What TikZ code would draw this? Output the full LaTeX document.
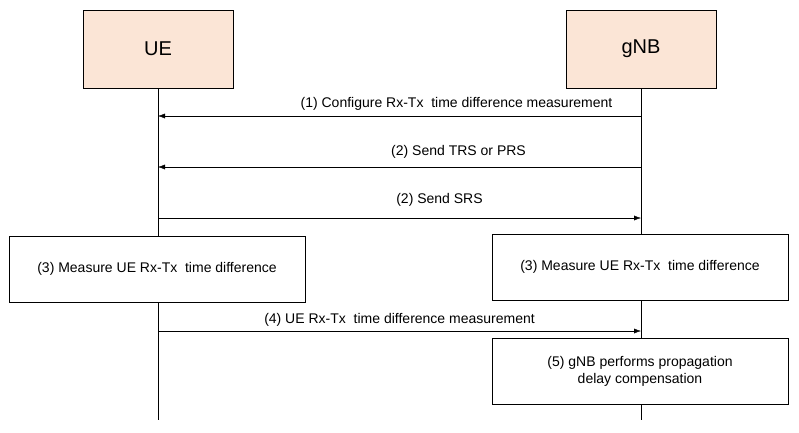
\documentclass[tikz,border=0pt]{standalone}
\usepackage{fontspec}
\setmainfont{Liberation Sans}
\usetikzlibrary{arrows.meta}
\definecolor{peach}{HTML}{FBE5D6}
\begin{document}
\begin{tikzpicture}[x=1pt,y=-1pt,
  ent/.style={draw,fill=peach,minimum width=150pt,minimum height=78pt,font=\fontsize{20}{24}\selectfont,inner sep=0pt},
  actbox/.style={draw,fill=white,minimum width=296pt,minimum height=66pt,align=center,font=\fontsize{14}{17}\selectfont,inner sep=0pt},
  msg/.style={-{Latex[length=7pt,width=5pt]}},
  lbl/.style={font=\fontsize{14}{17}\selectfont}]
\useasboundingbox (0,0) rectangle (799,432);
\node[ent] (ue) at (158,49) {UE};
\node[ent] (gnb) at (641,49) {gNB};
\coordinate (ueE) at (158,420);
\coordinate (gnbE) at (641,420);
\draw (ue.south) -- (ueE);
\draw (gnb.south) -- (gnbE);
\coordinate (u1) at (158,116); \coordinate (g1) at (641,116);
\coordinate (u2) at (158,167); \coordinate (g2) at (641,167);
\coordinate (u3) at (158,218); \coordinate (g3) at (641,218);
\coordinate (u4) at (158,331); \coordinate (g4) at (641,331);
\draw[msg] (g1) -- node[lbl,above=2pt,xshift=57pt]{(1) Configure Rx-Tx\ \ time difference measurement} (u1);
\draw[msg] (g2) -- node[lbl,above=5pt,xshift=59pt]{(2) Send TRS or PRS} (u2);
\draw[msg] (u3) -- node[lbl,above=8pt,xshift=40pt]{(2) Send SRS} (g3);
\node[actbox] (m1) at (157,269) {(3) Measure UE Rx-Tx\ \ time difference};
\node[actbox] (m2) at (640,267) {(3) Measure UE Rx-Tx\ \ time difference};
\draw[msg] (u4) -- node[lbl,above=1pt]{(4) UE Rx-Tx\ \ time difference measurement} (g4);
\node[actbox] (m5) at (640,371) {(5) gNB performs propagation\\delay compensation};
\end{tikzpicture}
\end{document}
